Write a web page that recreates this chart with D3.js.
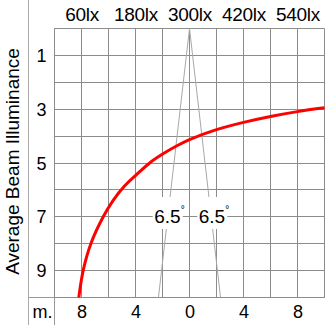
<!DOCTYPE html>
<html>
<head>
<meta charset="utf-8">
<script src="https://cdn.jsdelivr.net/npm/d3@7"></script>
<style>
  html, body { margin: 0; padding: 0; background: #fff; }
  svg { display: block; font-family: "Liberation Sans", Arial, sans-serif; }
</style>
</head>
<body>
<svg id="chart" width="327" height="325"></svg>
<script>
// ---- data ----
const yTicks = [1, 3, 5, 7, 9];                 // left labels (m)
const xTicks = [-8, -4, 0, 4, 8];               // bottom labels (m, shown as absolute)
const luxLabels = ["60lx", "180lx", "300lx", "420lx", "540lx"];
const curveX = [-8.2, -7.87, -7.3, -6.39, -5.64, -4.78, -3.96, -2.93, -1.96, -0.93, 0, 2, 4, 6, 8, 10];
const curveY = [10, 8.98, 7.99, 7.0, 6.38, 5.84, 5.45, 4.99, 4.66, 4.36, 4.13, 3.76, 3.49, 3.27, 3.09, 2.95];
const beamX = [-2.3, 0, 2.3];
const beamY = [10, 0, 10];
const beamAngle = "6.5";
const yTitle = "Average Beam Illuminance";
const unitLabel = "m.";

// ---- layout ----
const svg = d3.select("#chart");
const x = d3.scaleLinear().domain([-10, 10]).range([54.5, 324.5]);
const y = d3.scaleLinear().domain([0, 10]).range([28.5, 297.5]);
const px = v => Math.round(x(v) - 0.5) + 0.5;
const py = v => Math.round(y(v) - 0.5) + 0.5;

// outer frame lines
svg.append("line").attr("x1", 28.5).attr("x2", 28.5).attr("y1", 0).attr("y2", 325)
  .attr("stroke", "#aaa").attr("stroke-width", 1);
svg.append("line").attr("x1", 28.5).attr("x2", 325).attr("y1", 297.5).attr("y2", 297.5)
  .attr("stroke", "#999").attr("stroke-width", 1);
svg.append("line").attr("x1", 54.5).attr("x2", 54.5).attr("y1", 28.5).attr("y2", 325)
  .attr("stroke", "#999").attr("stroke-width", 1);

// grid
const gx = d3.range(-10, 10.01, 2);
const gy = d3.range(0, 10.01, 1);
svg.append("g").selectAll("line").data(gx).join("line")
  .attr("x1", d => px(d)).attr("x2", d => px(d))
  .attr("y1", py(0)).attr("y2", py(10))
  .attr("stroke", "#8c8c8c").attr("stroke-width", 1);
svg.append("g").selectAll("line").data(gy).join("line")
  .attr("x1", px(-10)).attr("x2", px(10))
  .attr("y1", d => py(d)).attr("y2", d => py(d))
  .attr("stroke", "#8c8c8c").attr("stroke-width", 1);

// beam lines
const beamLine = d3.line().x((d, i) => x(beamX[i])).y((d, i) => y(beamY[i]));
svg.append("path").datum(beamX).attr("d", beamLine)
  .attr("fill", "none").attr("stroke", "#a8a8a8").attr("stroke-width", 1);

// beam angle labels with white background
const angleG = svg.append("g");
[-1, 1].forEach(s => {
  const cx = x(s * 1.65);
  angleG.append("rect").attr("x", cx - 14.5).attr("y", 197).attr("width", 30).attr("height", 32)
    .attr("fill", "#fff");
  const t = angleG.append("text").attr("x", cx - 13).attr("y", y(7) + 6)
    .attr("font-size", 19).attr("fill", "#000");
  t.append("tspan").text(beamAngle);
  t.append("tspan").attr("font-size", 10).attr("dy", -10).text("°");
});

// red curve
const line = d3.line().x((d, i) => x(curveX[i])).y((d, i) => y(curveY[i])).curve(d3.curveCatmullRom.alpha(0.5));
svg.append("path").datum(curveX).attr("d", line)
  .attr("fill", "none").attr("stroke", "#ff0000").attr("stroke-width", 3);

// left labels (axis)
const yAxis = d3.axisLeft(y).tickValues(yTicks).tickSize(0).tickPadding(0);
const ya = svg.append("g").attr("transform", "translate(41.5,0)").call(yAxis);
ya.select(".domain").remove();
ya.selectAll("text").attr("font-size", 18).attr("font-family", "Liberation Sans, Arial, sans-serif")
  .attr("fill", "#000").attr("text-anchor", "middle").attr("x", 0).attr("dy", "0.34em");

// bottom labels (axis)
const xAxis = d3.axisBottom(x).tickValues(xTicks).tickSize(0).tickPadding(0).tickFormat(d => Math.abs(d));
const xa = svg.append("g").attr("transform", "translate(0,318)").call(xAxis);
xa.select(".domain").remove();
xa.selectAll("text").attr("font-size", 18).attr("font-family", "Liberation Sans, Arial, sans-serif")
  .attr("fill", "#000").attr("y", 0).attr("dy", 0);

// top lux labels (axis)
const topAxis = d3.axisTop(x).tickValues(xTicks).tickSize(0).tickPadding(0)
  .tickFormat((d, i) => luxLabels[i]);
const ta = svg.append("g").attr("transform", "translate(0,21)").call(topAxis);
ta.select(".domain").remove();
ta.selectAll("text").attr("font-size", 19).attr("font-family", "Liberation Sans, Arial, sans-serif")
  .attr("fill", "#000").attr("y", 0).attr("dy", 0).attr("letter-spacing", -0.3);

// unit label
svg.append("text").attr("x", 42.5).attr("y", 318).attr("text-anchor", "middle")
  .attr("font-size", 18).attr("fill", "#000").text(unitLabel);

// y title
svg.append("text").attr("transform", "translate(18.5,161.5) rotate(-90)")
  .attr("text-anchor", "middle").attr("font-size", 19).attr("fill", "#000").text(yTitle);
</script>
</body>
</html>
